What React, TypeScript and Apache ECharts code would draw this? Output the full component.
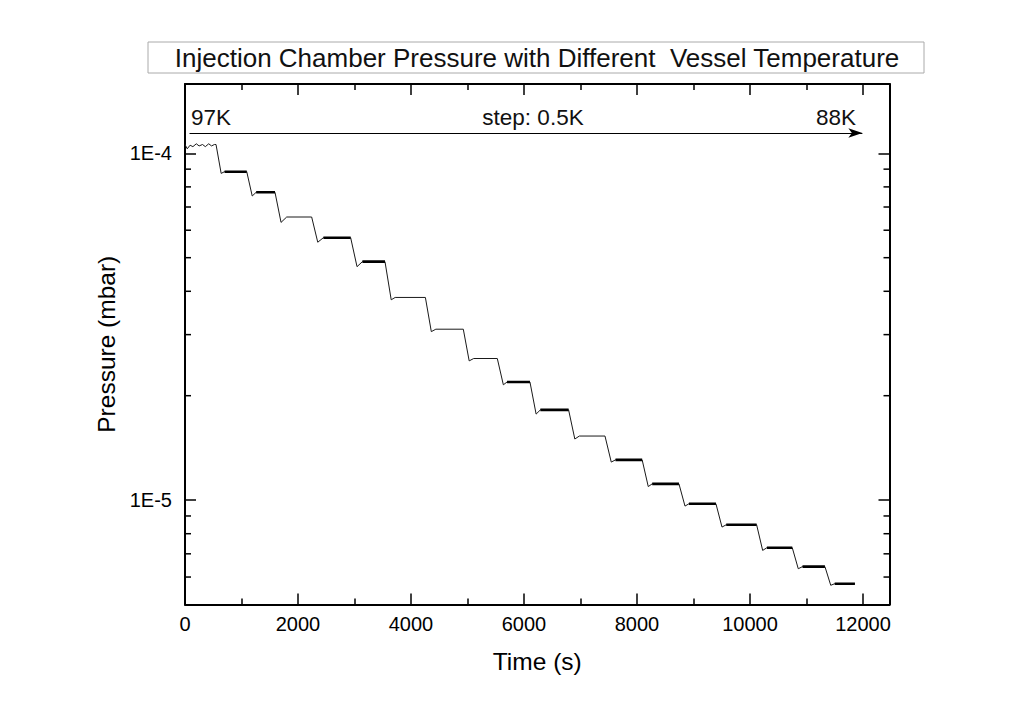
import React, { useEffect, useRef } from "react";
import * as echarts from "echarts";

// ---- data ----
const X_MIN = 0;
const X_MAX = 12470;
const Y_MIN = 5.0e-6;
const Y_MAX = 1.584e-4;

// time (s) at which each temperature step begins (pressure starts dropping)
const dropStart = [549, 1093, 1593, 2242, 2932, 3540, 4255, 4926, 5528, 6106, 6790, 7434, 8092, 8743, 9398, 10118, 10749, 11327];
// time of the undershoot minimum after each drop
const dipTime = [640, 1190, 1700, 2350, 3045, 3650, 4360, 5030, 5635, 6215, 6900, 7545, 8200, 8850, 9505, 10225, 10855, 11430];
// time at which the new plateau is reached
const settleTime = [700, 1260, 1800, 2450, 3140, 3720, 4440, 5110, 5700, 6290, 6980, 7620, 8270, 8920, 9580, 10300, 10930, 11500];
const endTime = 11858;

// plateau pressure (mbar) for 97K, 96.5K, ... 88K
const plateau = [1.05e-4, 8.85e-5, 7.72e-5, 6.55e-5, 5.71e-5, 4.87e-5, 3.84e-5, 3.11e-5, 2.56e-5, 2.19e-5, 1.82e-5, 1.53e-5, 1.306e-5, 1.114e-5, 9.76e-6, 8.49e-6, 7.29e-6, 6.43e-6, 5.74e-6];
// undershoot minimum after each drop
const dip = [8.75e-5, 7.53e-5, 6.32e-5, 5.54e-5, 4.71e-5, 3.78e-5, 3.06e-5, 2.52e-5, 2.15e-5, 1.77e-5, 1.5e-5, 1.287e-5, 1.094e-5, 9.61e-6, 8.36e-6, 7.16e-6, 6.34e-6, 5.68e-6];
// first plateau is visibly noisy
const firstPlateauT = [0, 40, 90, 140, 200, 250, 310, 360, 420, 470, 520, 549];
const firstPlateauP = [1.06e-4, 1.03e-4, 1.055e-4, 1.045e-4, 1.065e-4, 1.05e-4, 1.06e-4, 1.045e-4, 1.065e-4, 1.05e-4, 1.06e-4, 1.06e-4];
// plateaus drawn with visible noise (thick) in the reference
const noisyPlateau = [true, true, true, false, true, true, false, false, false, true, true, false, true, true, true, true, true, true, true];

const yMinorTicks = [2e-5, 3e-5, 4e-5, 5e-5, 6e-5, 7e-5, 8e-5, 9e-5, 6e-6, 7e-6, 8e-6, 9e-6];

const titleText = "Injection Chamber Pressure with Different  Vessel Temperature";
const startLabel = "97K";
const stepLabel = "step: 0.5K";
const endLabel = "88K";
const arrowStartT = 80;
const arrowEndT = 11990;
const arrowP = 1.144e-4;

const FONT = "'Liberation Sans', Arial, Helvetica, sans-serif";

function buildLine() {
  const pts: [number, number][] = [];
  firstPlateauT.forEach((t, i) => pts.push([t, firstPlateauP[i]]));
  for (let i = 0; i < dropStart.length; i++) {
    if (i > 0) pts.push([dropStart[i], plateau[i]]);
    pts.push([dipTime[i], dip[i]]);
    pts.push([settleTime[i], plateau[i + 1]]);
  }
  pts.push([endTime, plateau[plateau.length - 1]]);
  return pts;
}

function buildNoisy() {
  const pts: ([number, number] | null)[] = [];
  for (let i = 1; i < plateau.length; i++) {
    if (!noisyPlateau[i]) continue;
    const s = settleTime[i - 1];
    const e = i < dropStart.length ? dropStart[i] : endTime;
    pts.push([s, plateau[i]]);
    pts.push([e, plateau[i]]);
    pts.push(null);
  }
  return pts;
}

export default function App() {
  const ref = useRef<HTMLDivElement>(null);
  useEffect(() => {
    document.body.style.margin = "0";
    const chart = echarts.init(ref.current!, null, { renderer: "svg" });
    const axisLine = { show: true, onZero: false, lineStyle: { color: "#000", width: 2 } };
    const tick = { show: true, inside: true, length: 11, lineStyle: { color: "#000", width: 1.5 } };
    const option: any = {
      animation: false,
      backgroundColor: "#fff",
      textStyle: { fontFamily: FONT },
      grid: { left: 185, right: 144.5, top: 84, bottom: 120.5, containLabel: false },
      xAxis: [
        {
          type: "value",
          min: X_MIN,
          max: X_MAX,
          interval: 2000,
          name: "Time (s)",
          nameLocation: "middle",
          nameGap: 44,
          nameTextStyle: { color: "#000", fontSize: 24.5, fontFamily: FONT },
          axisLine,
          axisTick: tick,
          minorTick: { show: true, splitNumber: 2, length: 6, lineStyle: { color: "#000", width: 1.5 } },
          axisLabel: {
            color: "#000",
            fontSize: 20,
            fontFamily: FONT,
            margin: 9,
            showMaxLabel: false,
            formatter: (v: number) => (v % 2000 === 0 ? String(v) : ""),
          },
          splitLine: { show: false },
          minorSplitLine: { show: false },
        },
        {
          type: "value",
          position: "top",
          min: X_MIN,
          max: X_MAX,
          interval: 2000,
          axisLine,
          axisTick: tick,
          minorTick: { show: true, splitNumber: 2, length: 6, lineStyle: { color: "#000", width: 1.5 } },
          axisLabel: { show: false },
          splitLine: { show: false },
        },
      ],
      yAxis: [
        {
          type: "log",
          logBase: 10,
          min: Y_MIN,
          max: Y_MAX,
          name: "Pressure (mbar)",
          nameLocation: "middle",
          nameGap: 57,
          nameTextStyle: { color: "#000", fontSize: 24.5, fontFamily: FONT },
          axisLine,
          axisTick: tick,
          axisLabel: {
            color: "#000",
            fontSize: 20,
            fontFamily: FONT,
            margin: 13,
            formatter: (v: number) => {
              const e = Math.log10(v);
              const r = Math.round(e);
              return Math.abs(e - r) < 1e-6 ? `1E${r}` : "";
            },
          },
          splitLine: { show: false },
        },
        {
          type: "log",
          logBase: 10,
          position: "right",
          min: Y_MIN,
          max: Y_MAX,
          axisLine,
          axisTick: tick,
          axisLabel: { show: false },
          splitLine: { show: false },
        },
      ],
      series: [
        {
          type: "line",
          data: buildLine(),
          showSymbol: false,
          symbol: "none",
          lineStyle: { color: "#1a1a1a", width: 1 },
          silent: true,
          markLine: {
            silent: true,
            symbol: ["none", "arrow"],
            symbolSize: [7, 14],
            label: { show: false },
            lineStyle: { color: "#000", width: 1, type: "solid" },
            data: [[{ coord: [arrowStartT, arrowP] }, { coord: [arrowEndT, arrowP] }]],
          },
        },
        {
          type: "line",
          data: buildNoisy(),
          showSymbol: false,
          symbol: "none",
          connectNulls: false,
          lineStyle: { color: "#000", width: 2.6 },
          silent: true,
        },
        {
          type: "custom",
          silent: true,
          clip: false,
          data: yMinorTicks.map((v) => [X_MIN, v]),
          renderItem: (params: any, api: any) => {
            const v = api.value(1);
            const pl = api.coord([X_MIN, v]);
            const pr = api.coord([X_MAX, v]);
            return {
              type: "group",
              children: [
                { type: "line", shape: { x1: pl[0], y1: pl[1], x2: pl[0] + 6, y2: pl[1] }, style: { stroke: "#000", lineWidth: 1.5 } },
                { type: "line", shape: { x1: pr[0], y1: pr[1], x2: pr[0] - 6, y2: pr[1] }, style: { stroke: "#000", lineWidth: 1.5 } },
              ],
            };
          },
        },
      ],
      graphic: [
        {
          type: "rect",
          shape: { x: 148, y: 42, width: 776, height: 31 },
          style: { fill: "#fff", stroke: "#aaa", lineWidth: 1 },
          silent: true,
        },
        {
          type: "text",
          x: 537,
          y: 57.5,
          style: { text: titleText, fontSize: 26, fontFamily: FONT, fill: "#111", align: "center", verticalAlign: "middle" },
          silent: true,
        },
        {
          type: "text",
          x: 191,
          y: 117,
          style: { text: startLabel, fontSize: 22.5, fontFamily: FONT, fill: "#111", align: "left", verticalAlign: "middle" },
          silent: true,
        },
        {
          type: "text",
          x: 533,
          y: 117,
          style: { text: stepLabel, fontSize: 22.5, fontFamily: FONT, fill: "#111", align: "center", verticalAlign: "middle" },
          silent: true,
        },
        {
          type: "text",
          x: 856,
          y: 117,
          style: { text: endLabel, fontSize: 22.5, fontFamily: FONT, fill: "#111", align: "right", verticalAlign: "middle" },
          silent: true,
        },
      ],
    };
    chart.setOption(option);
    return () => chart.dispose();
  }, []);
  return <div ref={ref} style={{ width: 1034, height: 725 }} />;
}
